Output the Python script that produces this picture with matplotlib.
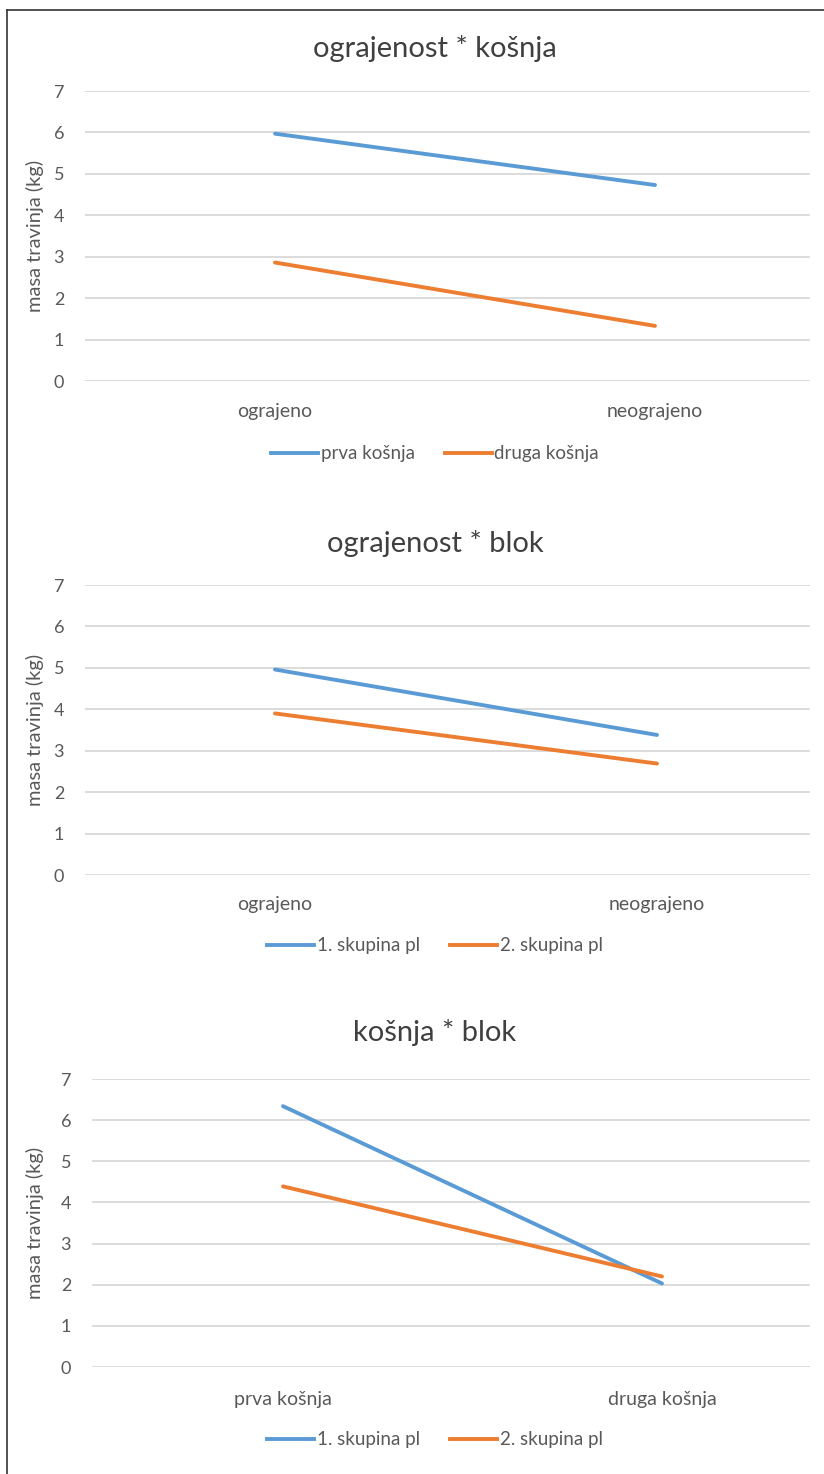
import matplotlib.pyplot as plt
from matplotlib.lines import Line2D

plt.rcParams['font.family'] = ['Lato', 'DejaVu Sans']

BLUE = '#5B9BD5'
ORANGE = '#ED7D31'
TEXT = '#595959'
GRID = '#D9D9D9'

# chart 1: ograjenost * košnja
titles = ['ograjenost * košnja', 'ograjenost * blok', 'košnja * blok']
cats_1 = ['ograjeno', 'neograjeno']
prva_kosnja = [5.97, 4.73]
druga_kosnja = [2.86, 1.33]
legend_1 = ['prva košnja', 'druga košnja']

# chart 2: ograjenost * blok
cats_2 = ['ograjeno', 'neograjeno']
skupina1_b = [4.96, 3.38]
skupina2_b = [3.9, 2.69]
legend_2 = ['1. skupina pl', '2. skupina pl']

# chart 3: košnja * blok
cats_3 = ['prva košnja', 'druga košnja']
skupina1_k = [6.34, 2.03]
skupina2_k = [4.39, 2.2]
legend_3 = ['1. skupina pl', '2. skupina pl']

yticks = [0, 1, 2, 3, 4, 5, 6, 7]
ylabel = 'masa travinja (kg)'

W, H = 824, 1474
fig = plt.figure(figsize=(W / 100, H / 100), dpi=100)


def px_axes(left, top, right, bottom):
    return fig.add_axes([left / W, 1 - bottom / H, (right - left) / W, (bottom - top) / H])


# (plot left, y7, right, y0, cat0 x, cat1 x, title y, xlabel y, legend y)
layouts = [
    (85, 91, 810, 381, 275, 655, 48, 410, 454),
    (85, 585, 810, 875, 275, 657, 543, 903, 946),
    (92, 1079, 810, 1367, 283, 662, 1032, 1397, 1440),
]
datasets = [
    (cats_1, prva_kosnja, druga_kosnja, legend_1),
    (cats_2, skupina1_b, skupina2_b, legend_2),
    (cats_3, skupina1_k, skupina2_k, legend_3),
]

for i, (lay, data) in enumerate(zip(layouts, datasets)):
    left, y7, right, y0, c0, c1, ty, xly, ly = lay
    cats, s1, s2, labels = data
    ax = px_axes(left, y7, right, y0)
    step = c1 - c0
    ax.set_xlim(-(c0 - left) / step, (right - c0) / step)
    ax.set_ylim(0, 7)
    ax.plot([0, 1], s1, color=BLUE, lw=2.8, solid_capstyle='round', zorder=3)
    ax.plot([0, 1], s2, color=ORANGE, lw=2.8, solid_capstyle='round', zorder=3)
    ax.set_yticks(yticks)
    ax.set_yticklabels([str(t) for t in yticks], fontsize=13, color=TEXT)
    ax.set_xticks([0, 1])
    ax.set_xticklabels(cats, fontsize=14, color=TEXT)
    ax.tick_params(axis='both', length=0)
    ax.tick_params(axis='y', pad=15)
    ax.tick_params(axis='x', pad=(xly - y0) - 13)
    ax.grid(axis='y', color=GRID, lw=1.3)
    ax.set_axisbelow(True)
    for s in ax.spines.values():
        s.set_visible(False)
    fig.text(35 / W, 1 - (y7 + y0) / 2 / H, ylabel, rotation=90, ha='center', va='center',
             fontsize=14.5, color=TEXT)
    fig.text(435 / W, 1 - ty / H, titles[i], ha='center', va='center', fontsize=21, color='#404040')
    handles = [Line2D([], [], color=BLUE, lw=2.8), Line2D([], [], color=ORANGE, lw=2.8)]
    fig.legend(handles, labels, loc='center', bbox_to_anchor=(435 / W, 1 - ly / H), ncol=2,
               frameon=False, fontsize=13.5, labelcolor=TEXT, handlelength=2.5, handletextpad=0.15,
               columnspacing=1.6)

# border: top and left lines only
fig.add_artist(Line2D([7 / W, 1], [1 - 10 / H, 1 - 10 / H], color='#333333', lw=1.2))
fig.add_artist(Line2D([7 / W, 7 / W], [0, 1 - 10 / H], color='#333333', lw=1.2))

fig.savefig('out.png', dpi=100, facecolor='white')
